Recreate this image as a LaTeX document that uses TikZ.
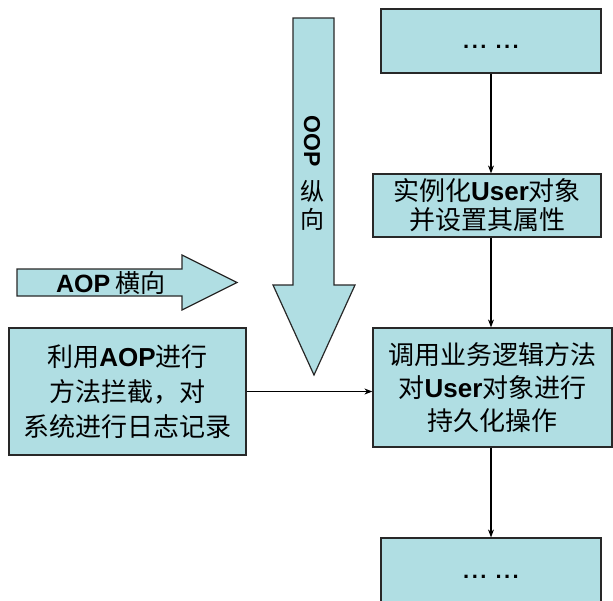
\documentclass[tikz,border=0pt]{standalone}
\usepackage{fontspec}
\setmainfont{Noto Sans CJK SC}
\newfontfamily\lat{Liberation Sans}
\usetikzlibrary{arrows.meta}
\definecolor{boxfill}{RGB}{176,222,227}
\definecolor{boxline}{RGB}{40,40,40}
\tikzset{
  flowbox/.style={draw=boxline, fill=boxfill, line width=1.2pt, inner sep=0pt, align=center,
    font=\fontsize{26}{34}\selectfont},
  bigarrow/.style={draw=boxline, fill=boxfill, line width=1.2pt, line join=miter},
  conn/.style={draw=black, line width=1.1pt, -{Stealth[length=8pt,width=6pt]}},
  dots/.style={font=\lat\bfseries\fontsize{22}{26}\selectfont}
}
\newcommand{\lb}[1]{{\lat\bfseries #1}}
\newcommand{\dotgrp}{.\kern2.5pt.\kern2.5pt.}
\begin{document}
\begin{tikzpicture}[x=1pt,y=-1pt]
\useasboundingbox (0,0) rectangle (613,600);
% big arrows
\draw[bigarrow] (17,269) -- (182,269) -- (182,255) -- (237,282.5) -- (182,310) -- (182,296) -- (17,296) -- cycle;
\node[font=\fontsize{25}{28}\selectfont, anchor=center] (aoptext) at (111,282.5) {\lb{AOP} 横向};
\draw[bigarrow] (293,18) -- (334,18) -- (334,285) -- (355,285) -- (314,375) -- (273,285) -- (293,285) -- cycle;
\node[font=\lat\bfseries\fontsize{23}{26}\selectfont, rotate=-90] (ooptext) at (312,141) {OOP};
\node[font=\fontsize{24}{28}\selectfont, align=center] (zxtext) at (312,205) {纵\\向};
% boxes
\node[flowbox, minimum width=220pt, minimum height=64pt] (top) at (491,41) {};
\node[dots] (topdots) at (491,47) {\dotgrp\kern9pt\dotgrp};
\node[flowbox, minimum width=228pt, minimum height=63pt, font=\fontsize{26}{29}\selectfont] (inst) at (487,205.5) {实例化\lb{User}对象\\并设置其属性};
\node[flowbox, minimum width=239pt, minimum height=119pt, font=\fontsize{26}{33}\selectfont] (call) at (492.5,387.5) {调用业务逻辑方法\\对\lb{User}对象进行\\持久化操作};
\node[flowbox, minimum width=220pt, minimum height=66pt] (bot) at (491,571) {};
\node[dots] (botdots) at (491,577) {\dotgrp\kern9pt\dotgrp};
\node[flowbox, minimum width=237pt, minimum height=127pt, font=\fontsize{26}{35}\selectfont] (aop) at (127.5,391.5) {利用\lb{AOP}进行\\方法拦截，对\\系统进行日志记录};
% connectors
\draw[conn] (top.south) -- (top.south |- inst.north);
\draw[conn] (top.south |- inst.south) -- (top.south |- call.north);
\draw[conn] (top.south |- call.south) -- (top.south |- bot.north);
\draw[conn] (aop.east) -- (aop.east -| call.west);
\end{tikzpicture}
\end{document}
